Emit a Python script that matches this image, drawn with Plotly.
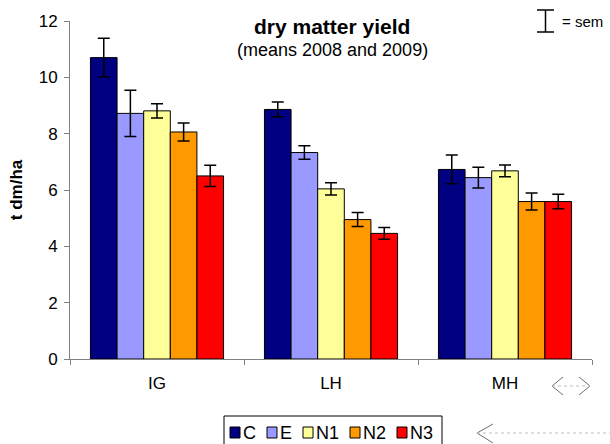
import plotly.graph_objects as go

categories = ["IG", "LH", "MH"]
series_names = ["C", "E", "N1", "N2", "N3"]
values_C = [10.70, 8.86, 6.73]
values_E = [8.72, 7.33, 6.44]
values_N1 = [8.81, 6.04, 6.68]
values_N2 = [8.06, 4.95, 5.59]
values_N3 = [6.50, 4.46, 5.59]
sem_C = [0.69, 0.26, 0.51]
sem_E = [0.82, 0.24, 0.37]
sem_N1 = [0.25, 0.22, 0.21]
sem_N2 = [0.32, 0.25, 0.30]
sem_N3 = [0.38, 0.21, 0.26]
y_ticks = [0, 2, 4, 6, 8, 10, 12]

series_values = [values_C, values_E, values_N1, values_N2, values_N3]
series_sem = [sem_C, sem_E, sem_N1, sem_N2, sem_N3]
colors = ["#000080", "#9999FF", "#FFFF99", "#FF9900", "#FF0000"]

FONT = "Liberation Sans, Arial, sans-serif"

fig = go.Figure()
for name, vals, sems, col in zip(series_names, series_values, series_sem, colors):
    fig.add_trace(go.Bar(
        name=name, x=categories, y=vals,
        marker=dict(color=col, line=dict(color="#000000", width=1)),
        error_y=dict(type="data", array=sems, visible=True,
                     color="#000000", thickness=1.5, width=6),
    ))

L, R, T, B = 70, 18, 21, 85
W, H = 610, 444
pw, ph = W - L - R, H - T - B

def px(x):
    return (x - L) / pw

def py(y):
    return (H - B - y) / ph

fig.update_layout(
    width=W, height=H,
    margin=dict(l=L, r=R, t=T, b=B, autoexpand=False),
    paper_bgcolor="white", plot_bgcolor="white",
    font=dict(family=FONT, size=17, color="#000000"),
    barmode="group", bargap=0.235, bargroupgap=0,
    showlegend=False,
    xaxis=dict(showline=True, linecolor="#808080", linewidth=1,
               ticks="outside", tickson="boundaries", ticklen=5,
               tickcolor="#808080", showgrid=False, zeroline=False,
               tickfont=dict(size=17), ticklabelstandoff=9),
    yaxis=dict(range=[0, 12], tickvals=y_ticks, showline=True,
               linecolor="#808080", linewidth=1, ticks="outside",
               ticklen=5, tickcolor="#808080", showgrid=False,
               zeroline=False, tickfont=dict(size=17), ticklabelstandoff=3,
               title=dict(text="<b>t dm/ha</b>", font=dict(size=17),
                          standoff=11),
               automargin=False),
)

fig.add_annotation(text="<b>dry matter yield</b>", xref="paper", yref="paper",
                   x=px(332), y=py(27), xanchor="center", yanchor="middle",
                   showarrow=False, font=dict(size=21))
fig.add_annotation(text="(means 2008 and 2009)", xref="paper", yref="paper",
                   x=px(332), y=py(50), xanchor="center", yanchor="middle",
                   showarrow=False, font=dict(size=18))
fig.add_annotation(text="= sem", xref="paper", yref="paper",
                   x=px(560), y=py(21), xanchor="left", yanchor="middle",
                   showarrow=False, font=dict(size=15))

gray = "#707070"
shapes = [
    # sem I-beam
    dict(type="line", x0=px(537), x1=px(554), y0=py(10), y1=py(10), line=dict(color="black", width=1.5)),
    dict(type="line", x0=px(537), x1=px(554), y0=py(32), y1=py(32), line=dict(color="black", width=1.5)),
    dict(type="line", x0=px(545.5), x1=px(545.5), y0=py(10), y1=py(32), line=dict(color="black", width=1.5)),
    # <> decoration
    dict(type="path", path=f"M {px(563)},{py(377)} L {px(552)},{py(386)} L {px(563)},{py(395)}",
         line=dict(color=gray, width=1)),
    dict(type="path", path=f"M {px(579)},{py(377)} L {px(590)},{py(386)} L {px(579)},{py(395)}",
         line=dict(color=gray, width=1)),
    dict(type="line", x0=px(552), x1=px(590), y0=py(386), y1=py(386), line=dict(color="#c0c0c0", width=1, dash="dot")),
    # bottom arrow
    dict(type="path", path=f"M {px(493)},{py(424)} L {px(477)},{py(433)} L {px(493)},{py(443)}",
         line=dict(color=gray, width=1)),
    dict(type="line", x0=px(477), x1=px(612), y0=py(433), y1=py(433), line=dict(color="#c0c0c0", width=1, dash="dot")),
]

# Legend box (Excel-style) built from the series names and colours
LEG_FS = 18
char_w = {"C": 0.722, "E": 0.667, "N": 0.722, "1": 0.556, "2": 0.556, "3": 0.556}
leg_left, leg_top = 224, 416
sw, sh, gap_txt, gap_entry = 10, 11, 3, 11
cx = leg_left + 6
cy = 432.5
for name, col in zip(series_names, colors):
    shapes.append(dict(type="rect", x0=px(cx), x1=px(cx + sw), y0=py(cy - sh / 2), y1=py(cy + sh / 2),
                       fillcolor=col, line=dict(color="black", width=1)))
    tx = cx + sw + gap_txt
    fig.add_annotation(text=name, xref="paper", yref="paper", x=px(tx - 2), y=py(cy),
                       xanchor="left", yanchor="middle", showarrow=False,
                       font=dict(size=LEG_FS))
    tw = sum(char_w.get(c, 0.6) for c in name) * LEG_FS
    cx = tx + tw + gap_entry
leg_right = cx - gap_entry + 9
shapes.append(dict(type="rect", x0=px(leg_left), x1=px(leg_right), y0=py(leg_top), y1=py(452),
                   line=dict(color="black", width=1), fillcolor="rgba(0,0,0,0)"))

for s in shapes:
    s["xref"] = "paper"
    s["yref"] = "paper"
    fig.add_shape(**s)

fig.write_html("out.html")
